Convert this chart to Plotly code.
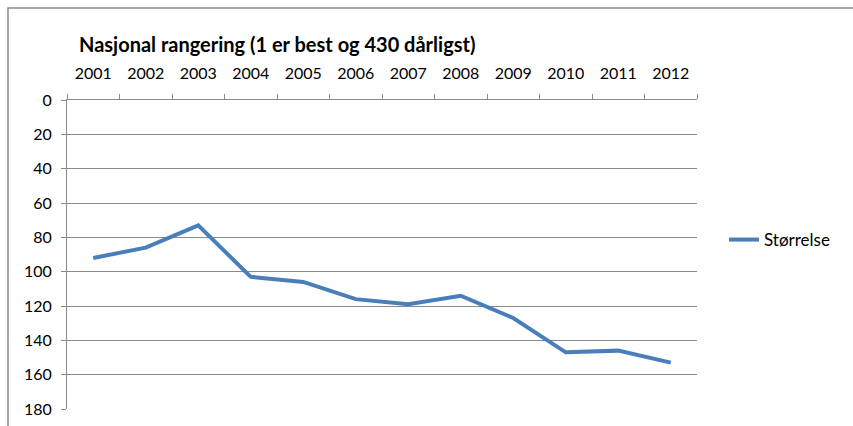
import plotly.graph_objects as go

years = ["2001", "2002", "2003", "2004", "2005", "2006",
         "2007", "2008", "2009", "2010", "2011", "2012"]
rank = [92, 86, 73, 103, 106, 116, 119, 114, 127, 147, 146, 153]
series_name = "Størrelse"
title_text = "Nasjonal rangering (1 er best og 430 dårligst)"
y_ticks = [0, 20, 40, 60, 80, 100, 120, 140, 160, 180]

FONT = "Lato"
GRID = "#8a8a8a"
LINE = "#4a7ebb"

W, H = 853, 426
L, R, T, B = 67, 156, 100, 17
pw, ph = W - L - R, H - T - B

def px_x(px):
    return (px - L) / pw

def px_y(py):
    return (H - B - py) / ph

fig = go.Figure()
fig.add_trace(go.Scatter(
    x=years, y=rank, mode="lines", name=series_name,
    line=dict(color=LINE, width=4),
))

fig.update_layout(
    width=W, height=H,
    margin=dict(l=L, r=R, t=T, b=B, autoexpand=False),
    paper_bgcolor="white", plot_bgcolor="white",
    font=dict(family=FONT, size=16, color="#000000"),
    showlegend=True,
    legend=dict(
        x=px_x(724), y=px_y(240), xanchor="left", yanchor="middle",
        font=dict(family=FONT, size=17, color="#000000"),
        bgcolor="rgba(0,0,0,0)",
    ),
    xaxis=dict(
        type="category", side="top", range=[-0.5, 11.5],
        showline=True, linecolor=GRID, linewidth=1,
        ticks="outside", tickson="boundaries", ticklen=5, tickcolor=GRID,
        showgrid=False, ticklabelstandoff=14, automargin=False,
        tickfont=dict(family=FONT, size=16, color="#000000"),
        fixedrange=True,
    ),
    yaxis=dict(
        range=[180, 0], tickvals=y_ticks,
        showline=True, linecolor=GRID, linewidth=1,
        ticks="outside", ticklen=5, tickcolor=GRID,
        showgrid=True, gridcolor=GRID, gridwidth=1,
        zeroline=False, ticklabelstandoff=6, automargin=False,
        tickfont=dict(family=FONT, size=16, color="#000000"),
        fixedrange=True,
    ),
    annotations=[dict(
        text="<b>" + title_text + "</b>",
        xref="paper", yref="paper",
        x=px_x(77), y=px_y(44), xanchor="left", yanchor="middle",
        showarrow=False,
        font=dict(family=FONT, size=20, color="#000000"),
    )],
    shapes=[dict(
        type="rect", xref="paper", yref="paper",
        x0=px_x(8), x1=px_x(870), y0=px_y(440), y1=px_y(8),
        line=dict(color="#8c8c8c", width=1.5), fillcolor="rgba(0,0,0,0)",
        layer="below",
    )],
)

fig.write_html(
    "out.html",
    config={"displayModeBar": False},
    post_script="document.body.style.margin='0';document.body.style.overflow='hidden';",
)
